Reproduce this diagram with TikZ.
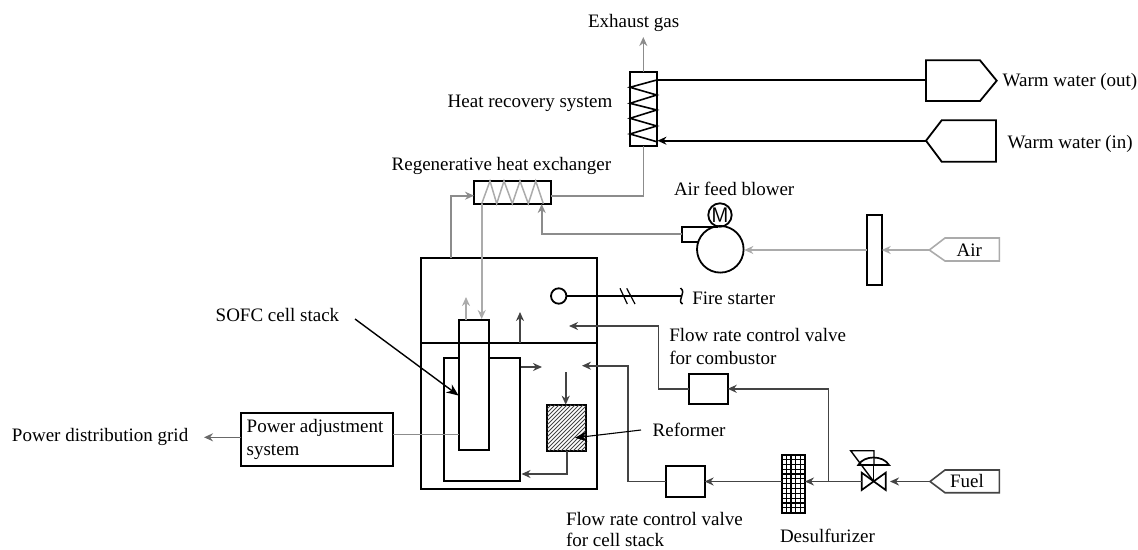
\documentclass[tikz,border=0pt]{standalone}
\usepackage{fontspec}
\setmainfont{Liberation Serif}
\usetikzlibrary{arrows.meta}
\definecolor{grayA}{HTML}{8C8C8C}
\definecolor{grayB}{HTML}{ABABAB}
\definecolor{darkF}{HTML}{444444}
\tikzset{
  blk/.style={line width=1.8pt,draw=black},
  boxn/.style={blk,rectangle,inner sep=0pt,outer sep=0pt,fill=none},
  wire/.style={line width=1.6pt},
  arr/.style={-{Stealth[length=9pt,width=8pt]}},
  arrbig/.style={-{Stealth[length=12pt,width=10pt]}},
  gA/.style={wire,draw=grayA},
  gB/.style={wire,draw=grayB},
  dk/.style={wire,draw=darkF},
  bk/.style={line width=2pt,draw=black},
  lbl/.style={font=\fontsize{19}{22}\selectfont,inner sep=0pt,outer sep=0pt,anchor=base west,text=black},
}
\begin{document}
\begin{tikzpicture}[x=1pt,y=-1pt]
\useasboundingbox (0,0) rectangle (1138,549);
% boxes
\node[boxn,minimum width=26.7pt,minimum height=73.7pt] (heat) at (643.3,108.8) {};
\node[boxn,minimum width=77pt,minimum height=22.7pt] (regen) at (512.5,192.4) {};
\node[boxn,minimum width=176pt,minimum height=231pt] (vessel) at (508.7,373.5) {};
\node[boxn,minimum width=76.3pt,minimum height=123pt] (ubox) at (481.9,419.5) {};
\node[boxn,minimum width=30pt,minimum height=130pt,fill=white] (cell) at (474,385) {};
\node[boxn,minimum width=38.4pt,minimum height=30.3pt] (valveC) at (708.5,388.8) {};
\node[boxn,minimum width=38.7pt,minimum height=31pt] (valveS) at (685.3,481.5) {};
\node[boxn,minimum width=151.7pt,minimum height=53.3pt] (power) at (317.1,439.3) {};
\node[boxn,minimum width=15pt,minimum height=69.7pt] (filter) at (874.2,249.8) {};
\node[boxn,circle,minimum size=46.6pt] (blower) at (720.3,249.3) {};
\node[boxn,circle,minimum size=23.4pt] (motor) at (720,215) {\fontsize{21}{21}\selectfont\sffamily M};
\node[boxn,circle,minimum size=15.4pt] (fire) at (558.7,296) {};
\node[boxn,minimum width=38.4pt,minimum height=46pt] (reformer) at (566.5,427.7) {};
\node[boxn,minimum width=23.3pt,minimum height=58pt] (desulf) at (793.3,483.7) {};
% divider
\coordinate (divL) at (420.7,343);
\coordinate (divR) at (596.7,343);
\draw[line width=2.2pt] (divL) -- (divR);
% heat recovery zigzag
\draw[line width=1.6pt] (656.7,80) -- (630,87.3) -- (656.7,95) -- (630,103.3) -- (656.7,110) -- (630,118.3) -- (656.7,126) -- (630,134) -- (656.7,141.7);
% regen zigzag
\draw[line width=1.5pt,draw=grayB] (481.7,203.7) -- (490,181) -- (496.7,203.7) -- (504,181) -- (512.3,203.7) -- (520,181) -- (528.3,203.7) -- (535.7,181) -- (543.3,203.7);
% reformer hatch
\begin{scope}
\clip (reformer.south west) rectangle (reformer.north east);
\foreach \i in {0,4,...,92}{\draw[line width=0.9pt,draw=darkF] (547+\i-46,451) -- (547+\i,405);}
\end{scope}
% desulfurizer grid
\foreach \i in {1,...,4}{\draw[line width=1.1pt] (781.7+\i*4.66,454.7) -- (781.7+\i*4.66,512.7);}
\foreach \i in {1,...,11}{\draw[line width=1.1pt] (781.7,454.7+\i*4.83) -- (805,454.7+\i*4.83);}
% blower casing
\coordinate (bB) at (681.7,226.7);
\coordinate (bC) at (681.7,242);
\coordinate (bD) at (699,242);
\coordinate (bE) at (718,226.7);
\draw[blk] (bE) -- (bB) -- (bC) -- (bD);
% tags
\coordinate (outL) at (926,80);
\draw[blk,line join=miter] (926,60.3) -- (980,60.3) -- (996.7,80.7) -- (980,101) -- (926,101) -- cycle;
\coordinate (inTip) at (926,140.7);
\draw[blk] (inTip) -- (941.7,120.3) -- (996,120.3) -- (996,161.7) -- (941.7,161.7) -- cycle;
\coordinate (airTip) at (929.3,250);
\draw[line width=1.6pt,draw=grayB] (airTip) -- (945,238) -- (999.3,238) -- (999.3,261) -- (945,261) -- cycle;
\coordinate (fuelTip) at (930,481.5);
\draw[line width=1.6pt,draw=darkF] (fuelTip) -- (945,470) -- (999.3,470) -- (999.3,492.7) -- (945,492.7) -- cycle;
% fuel valve
\coordinate (vL) at (861.7,481.5);
\draw[line width=1.7pt] (861.7,472.7) -- (885.7,490) -- (885.7,472.7) -- (861.7,490) -- cycle;
\draw[line width=1.3pt] (873.7,481.5) -- (873.7,465);
\draw[line width=1.7pt] (858.3,465) .. controls (864,455) and (883,455) .. (889,465) -- cycle;
\draw[line width=1.4pt] (874,465) -- (874,450.7) -- (850.7,450.7) -- (873.7,481.5);
% connectors: exhaust
\coordinate (exTop) at (643.3,37);
\draw[gA,arr] (heat.north) -- (exTop);
\coordinate (regenR) at (551,195.7);
\draw[gA] (regenR) -| (heat.south);
\coordinate (vTopA) at (450.7,258);
\coordinate (regenLin) at (474,195.7);
\draw[gA,arr] (vTopA) |- (regenLin);
\coordinate (rBot) at (481.7,203.7);
\coordinate (cellIn) at (481.7,319);
\draw[gB,arr] (rBot) -- (cellIn);
\coordinate (cellOut) at (466,320);
\coordinate (cellOutE) at (466,297);
\draw[gB,arr] (cellOut) -- (cellOutE);
% air
\coordinate (blowOut) at (681.7,233.7);
\coordinate (regenIn) at (541.7,204);
\draw[gA,arr] (blowOut) -| (regenIn);
\coordinate (filtL) at (866.7,250);
\coordinate (blowIn) at (744.3,250);
\draw[gB,arr] (filtL) -- (blowIn);
\coordinate (filtR) at (881.7,250);
\draw[gB,arr] (airTip) -- (filtR);
% water
\coordinate (heatWo) at (656.7,80);
\draw[bk] (heatWo) -- (outL);
\coordinate (heatWi) at (657.5,140.7);
\draw[bk,arr] (inTip) -- (heatWi);
% fire
\coordinate (fireEnd) at (681.7,296);
\draw[line width=1.5pt] (fire.east) -- (fireEnd);
\draw[line width=1.5pt] (680.5,288) .. controls (684,291) and (682.5,293) .. (681.7,296) .. controls (681,299) and (679,302) .. (682.5,304);
\draw[line width=1.2pt] (620,288.3) -- (627.3,304);
\draw[line width=1.2pt] (626.7,288.3) -- (635,304);
% inside vessel
\coordinate (upA) at (520,343);
\coordinate (upB) at (520,312);
\draw[dk,arr] (upA) -- (upB);
\coordinate (cA) at (658.3,388.8);
\coordinate (cB) at (658.3,326);
\coordinate (cC) at (569,326);
\draw[dk,arr] (valveC.west) -- (cA) -- (cB) -- (cC);
\coordinate (sA) at (628,481.5);
\coordinate (sB) at (628,365.7);
\coordinate (sC) at (582,365.7);
\draw[dk,arr] (valveS.west) -- (sA) -- (sB) -- (sC);
\coordinate (uOut) at (520.7,367);
\coordinate (uOutE) at (542,367);
\draw[dk,arr] (uOut) -- (uOutE);
\coordinate (refTop) at (565.7,372);
\draw[dk,arr] (refTop) -- (reformer.north -| refTop);
\coordinate (refBot) at (566.7,450.7);
\coordinate (refBotB) at (566.7,474);
\coordinate (uIn) at (521.5,474);
\draw[dk,arr] (refBot) -- (refBotB) -- (uIn);
% fuel lines
\coordinate (vR) at (890,481.5);
\draw[dk,arr] (fuelTip) -- (vR);
\coordinate (jn) at (828.3,481.5);
\draw[dk,arr] (vL) -- (desulf.east |- vL);
\draw[dk,arr] (jn) |- (valveC.east);
\coordinate (dsL) at (781.7,481.5);
\draw[dk,arr] (dsL) -- (valveS.east);
% power
\coordinate (cellL) at (459,434.5);
\coordinate (powR) at (393,434.5);
\draw[gA] (cellL) -- (powR);
\coordinate (powL) at (241.3,437.3);
\coordinate (gridE) at (204,437.3);
\draw[wire,draw=darkF!80,arr] (powL) -- (gridE);
% callouts
\coordinate (sofcS) at (355,319);
\coordinate (sofcE) at (458.5,395.5);
\draw[line width=1.4pt,arrbig] (sofcS) -- (sofcE);
\coordinate (refS) at (641,430);
\coordinate (refE) at (575,437.8);
\draw[line width=1.1pt,arrbig] (refS) -- (refE);
% labels
\node[lbl] (tExh) at (588,27.3) {Exhaust gas};
\node[lbl] (tHeat) at (447.7,107.7) {Heat recovery system};
\node[lbl] (tRegen) at (391.7,170.7) {Regenerative heat exchanger};
\node[lbl] (tBlow) at (674,195) {Air feed blower};
\node[lbl] (tFire) at (692.3,304) {Fire starter};
\node[lbl] (tFc1) at (669.3,341.7) {Flow rate control valve};
\node[lbl] (tFc2) at (669.3,364) {for combustor};
\node[lbl] (tRef) at (652.7,436.7) {Reformer};
\node[lbl] (tFs1) at (566,525) {Flow rate control valve};
\node[lbl] (tFs2) at (566,546) {for cell stack};
\node[lbl] (tDes) at (780,542.7) {Desulfurizer};
\node[lbl] (tWo) at (1002.7,86.7) {Warm water (out)};
\node[lbl] (tWi) at (1007.7,148.7) {Warm water (in)};
\node[lbl] (tSofc) at (215.7,321) {SOFC cell stack};
\node[lbl] (tPa1) at (246.7,432.7) {Power adjustment};
\node[lbl] (tPa2) at (246.7,455) {system};
\node[lbl] (tGrid) at (12,441.7) {Power distribution grid};
\node[lbl] (tFuel) at (950,487.5) {Fuel};
\node[lbl] (tAir) at (956.7,256.7) {Air};
\end{tikzpicture}
\end{document}
